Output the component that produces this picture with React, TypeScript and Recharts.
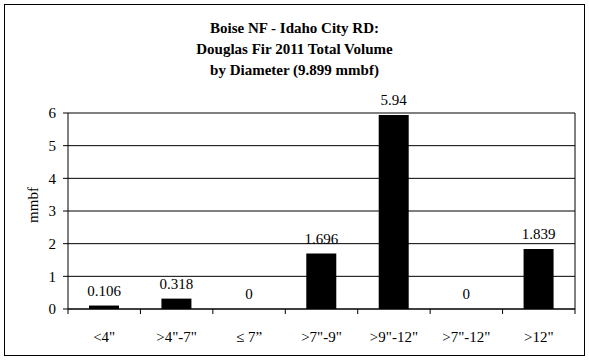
import { BarChart, Bar, XAxis, YAxis, CartesianGrid, LabelList, ReferenceDot } from 'recharts';

const categories = ['<4"', '>4"-7"', '\u2264 7\u201d', '>7"-9"', '>9"-12"', '>7"-12"', '>12"'];
const volumes = [0.106, 0.318, 0, 1.696, 5.94, 0, 1.839];
const yTicks = [0, 1, 2, 3, 4, 5, 6];
const titleLines = ['Boise NF - Idaho City RD:', 'Douglas Fir 2011 Total Volume', 'by Diameter (9.899 mmbf)'];

const data = categories.map((name, i) => ({ name, value: volumes[i] }));

const W = 589;
const H = 360;
const PLOT_LEFT = 68;
const PLOT_RIGHT = 575;
const PLOT_TOP = 113;
const PLOT_BOTTOM = 309;
const BAND = (PLOT_RIGHT - PLOT_LEFT) / categories.length;
const FONT = '"Liberation Serif", "Times New Roman", serif';

// Excel-style category tick: label centred, tick marks on the band edges
function CategoryTick(props: any) {
  const { x, y, payload, index } = props;
  const left = x - BAND / 2;
  return (
    <g>
      <line x1={left} y1={PLOT_BOTTOM} x2={left} y2={PLOT_BOTTOM + 5} stroke="#000" />
      {index === categories.length - 1 && (
        <line x1={x + BAND / 2} y1={PLOT_BOTTOM} x2={x + BAND / 2} y2={PLOT_BOTTOM + 5} stroke="#000" />
      )}
      <text x={x} y={y + 25} textAnchor="middle" fontSize={15} fontFamily={FONT} fill="#000">
        {payload.value}
      </text>
    </g>
  );
}

const labelStyle = { fontSize: 15, fontFamily: FONT, fill: '#000' };

export default function App() {
  return (
    <div style={{ position: 'absolute', left: 0, top: 0, width: W, height: H, background: '#fff' }}>
      <div
        style={{
          position: 'absolute',
          left: 4,
          top: 4,
          width: W - 10,
          height: H - 10,
          border: '1.5px solid #000',
        }}
      />
      <div
        style={{
          position: 'absolute',
          left: 0,
          top: 18,
          width: W,
          textAlign: 'center',
          fontFamily: FONT,
          fontWeight: 'bold',
          fontSize: 15,
          lineHeight: '21px',
          color: '#000',
        }}
      >
        {titleLines.map((t) => (
          <div key={t}>{t}</div>
        ))}
      </div>
      <div
        style={{
          position: 'absolute',
          left: 33,
          top: 205,
          transform: 'translate(-50%, -50%) rotate(-90deg)',
          fontFamily: FONT,
          fontSize: 15,
          color: '#000',
        }}
      >
        mmbf
      </div>
      <BarChart
        width={W}
        height={H}
        data={data}
        margin={{ top: PLOT_TOP, right: W - PLOT_RIGHT, left: PLOT_LEFT - 40, bottom: H - PLOT_BOTTOM - 30 }}
        barSize={30}
        style={{ position: 'absolute', left: 0, top: 0 }}
      >
        <CartesianGrid
          stroke="#000"
          strokeWidth={1}
          verticalCoordinatesGenerator={({ offset }: any) => [offset.left + offset.width]}
        />
        <XAxis
          dataKey="name"
          axisLine={{ stroke: '#000' }}
          tickLine={false}
          tick={<CategoryTick />}
          interval={0}
          height={30}
        />
        <YAxis
          domain={[0, 6]}
          ticks={yTicks}
          width={40}
          axisLine={{ stroke: '#000' }}
          tickLine={{ stroke: '#000' }}
          tickSize={5}
          tickMargin={7}
          tick={labelStyle}
        />
        <Bar dataKey="value" fill="#000" isAnimationActive={false}>
          <LabelList dataKey="value" position="top" offset={10} {...labelStyle} />
        </Bar>
        {data
          .filter((d) => d.value === 0)
          .map((d) => (
            <ReferenceDot
              key={d.name}
              x={d.name}
              y={d.value}
              r={0}
              stroke="none"
              fill="none"
              label={{ value: String(d.value), position: 'top', offset: 10, ...labelStyle }}
            />
          ))}
      </BarChart>
    </div>
  );
}
